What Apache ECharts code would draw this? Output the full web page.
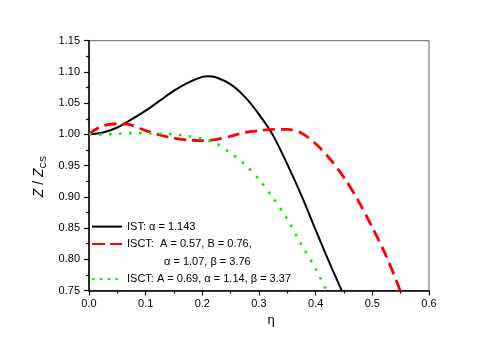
<!DOCTYPE html>
<html>
<head>
<meta charset="utf-8">
<script src="https://cdn.jsdelivr.net/npm/echarts@6/dist/echarts.min.js"></script>
<style>html,body{margin:0;padding:0;background:#fff}#c{width:498px;height:348px}</style>
</head>
<body>
<div id="c"></div>
<script>
// ---- data ----
var istX = [0, 0.025, 0.05, 0.075, 0.1, 0.125, 0.15, 0.175, 0.2, 0.21, 0.225, 0.25, 0.275, 0.3, 0.325, 0.35, 0.375, 0.4, 0.425, 0.45];
var istY = [1.000, 1.003, 1.011, 1.024, 1.038, 1.054, 1.070, 1.083, 1.092, 1.093, 1.091, 1.080, 1.060, 1.032, 0.998, 0.952, 0.902, 0.847, 0.793, 0.742];

var isct1X = [0, 0.01, 0.025, 0.05, 0.07, 0.1, 0.125, 0.15, 0.175, 0.2, 0.225, 0.25, 0.275, 0.3, 0.325, 0.35, 0.375, 0.4, 0.425, 0.45, 0.475, 0.5, 0.525, 0.55];
var isct1Y = [1.000, 1.007, 1.014, 1.017, 1.016, 1.006, 0.999, 0.994, 0.991, 0.990, 0.992, 0.997, 1.003, 1.006, 1.008, 1.008, 1.002, 0.985, 0.961, 0.931, 0.894, 0.851, 0.804, 0.748];

var isct2X = [0, 0.025, 0.05, 0.075, 0.1, 0.125, 0.15, 0.175, 0.2, 0.225, 0.25, 0.275, 0.3, 0.325, 0.35, 0.375, 0.4, 0.425];
var isct2Y = [1.000, 1.000, 1.001, 1.002, 1.002, 1.001, 1.000, 0.997, 0.993, 0.985, 0.970, 0.952, 0.928, 0.898, 0.864, 0.823, 0.785, 0.738];

var names = ['IST: \u03b1 = 1.143', 'ISCT:  A = 0.57, B = 0.76,', '\u03b1 = 1.07, \u03b2 = 3.76', 'ISCT: A = 0.69, \u03b1 = 1.14, \u03b2 = 3.37'];

function pairs(xs, ys) { return xs.map(function (x, i) { return [x, ys[i]]; }); }

var font = 'Liberation Sans, Arial, Helvetica, sans-serif';
var chart = echarts.init(document.getElementById('c'), null, { renderer: 'canvas' });
chart.setOption({
  animation: false,
  backgroundColor: '#fff',
  textStyle: { fontFamily: font },
  grid: { left: 89, right: 69, top: 40.7, bottom: 57.5, show: true, borderColor: '#666', borderWidth: 1, backgroundColor: 'transparent' },
  xAxis: {
    type: 'value', min: 0, max: 0.6, interval: 0.1,
    name: '\u03b7', nameLocation: 'middle', nameGap: 19,
    nameTextStyle: { fontSize: 13, color: '#000', fontFamily: font, padding: [0, 0, 0, 24] },
    axisLine: { show: true, onZero: false, lineStyle: { color: '#000', width: 1.5 } },
    axisTick: { show: true, inside: false, length: 5, lineStyle: { color: '#000', width: 1.2 } },
    minorTick: { show: true, splitNumber: 2, length: 3, lineStyle: { color: '#000', width: 1.2 } },
    axisLabel: { margin: 8, fontSize: 11, color: '#000', fontFamily: font, formatter: function (v) { return v.toFixed(1); } },
    splitLine: { show: false }
  },
  yAxis: {
    type: 'value', min: 0.75, max: 1.15, interval: 0.05,
    name: '{i|Z}{t| / }{i|Z}{s|CS}', nameLocation: 'middle', nameGap: 28,
    nameTextStyle: {
      color: '#000', fontFamily: font, padding: [0, 22, 0, 0],
      rich: {
        i: { fontSize: 14, fontStyle: 'italic', fontFamily: font, lineHeight: 18, verticalAlign: 'middle', color: '#000' },
        t: { fontSize: 14, fontFamily: font, lineHeight: 18, verticalAlign: 'middle', color: '#000' },
        s: { fontSize: 9, fontFamily: font, lineHeight: 9, verticalAlign: 'bottom', color: '#000' }
      }
    },
    axisLine: { show: true, onZero: false, lineStyle: { color: '#000', width: 1.5 } },
    axisTick: { show: true, inside: false, length: 5, lineStyle: { color: '#000', width: 1.2 } },
    minorTick: { show: true, splitNumber: 2, length: 3, lineStyle: { color: '#000', width: 1.2 } },
    axisLabel: { margin: 9, fontSize: 11, color: '#000', fontFamily: font, formatter: function (v) { return v.toFixed(2); } },
    splitLine: { show: false }
  },
  legend: {
    orient: 'vertical', left: 91, top: 221, padding: 0, itemGap: 6.3,
    itemWidth: 30, itemHeight: 14, selectedMode: false,
    itemStyle: { opacity: 0 },
    textStyle: { fontSize: 11, color: '#000', fontFamily: font },
    data: [
      { name: names[0] },
      { name: names[1], lineStyle: { type: [13, 5] } },
      { name: names[2], textStyle: { padding: [0, 0, 0, 37] } },
      { name: names[3], lineStyle: { type: [2.5, 5.3] } }
    ]
  },
  series: [
    { name: names[0], type: 'line', data: pairs(istX, istY), smooth: 0.3, showSymbol: false, symbol: 'none', clip: true,
      lineStyle: { color: '#000', width: 2 }, itemStyle: { color: '#000' } },
    { name: names[1], type: 'line', data: pairs(isct1X, isct1Y), smooth: 0.3, showSymbol: false, symbol: 'none', clip: true,
      lineStyle: { color: '#ff0000', width: 2.8, type: [12, 6], cap: 'butt' }, itemStyle: { color: '#ff0000' } },
    { name: names[2], type: 'line', data: [], symbol: 'none',
      lineStyle: { color: 'rgba(0,0,0,0)', width: 0 }, itemStyle: { color: 'rgba(0,0,0,0)' } },
    { name: names[3], type: 'line', data: pairs(isct2X, isct2Y), smooth: 0.3, showSymbol: false, symbol: 'none', clip: true,
      lineStyle: { color: '#00ee00', width: 2.6, type: [2.6, 7.4], cap: 'butt' }, itemStyle: { color: '#00ee00' } }
  ]
});
</script>
</body>
</html>
